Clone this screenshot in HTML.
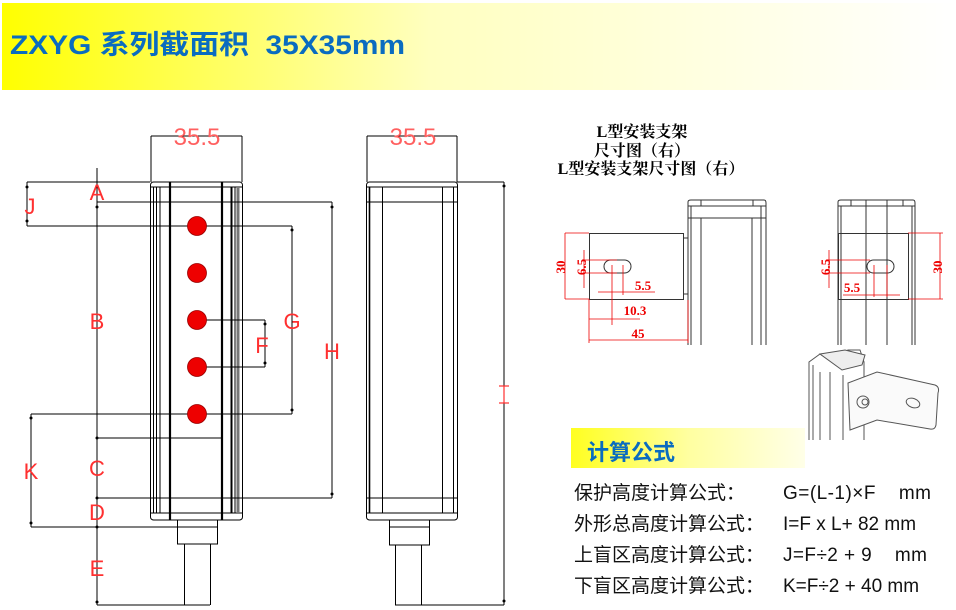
<!DOCTYPE html>
<html><head><meta charset="utf-8"><style>
html,body{margin:0;padding:0;background:#fff;width:956px;height:610px;overflow:hidden}
svg{display:block}
text{white-space:pre}
</style></head><body>
<svg width="956" height="610" viewBox="0 0 956 610" xmlns="http://www.w3.org/2000/svg">
<defs>
<linearGradient id="yg" x1="0" x2="1" y1="0" y2="0">
<stop offset="0" stop-color="#ffff00"/><stop offset="0.45" stop-color="#ffffc0"/><stop offset="1" stop-color="#ffffff"/></linearGradient>
<linearGradient id="yg2" x1="0" x2="1" y1="0" y2="0">
<stop offset="0" stop-color="#ffff20"/><stop offset="0.5" stop-color="#ffffa0"/><stop offset="1" stop-color="#ffffe8"/></linearGradient>
</defs>
<rect x="2" y="3" width="954" height="87" fill="url(#yg)"/>
<text x="10" y="54" font-family="Liberation Sans, Noto Sans CJK SC, sans-serif" font-weight="bold" font-size="27" fill="#0a6cc0" textLength="395" lengthAdjust="spacingAndGlyphs">ZXYG 系列截面积  35X35mm</text>

<g stroke="#000" stroke-width="1" fill="none">
<rect x="150.5" y="182" width="92" height="338" rx="3"/>
<line x1="151" y1="187" x2="242" y2="187"/>
<line x1="151" y1="513" x2="242" y2="513"/>
<line x1="153.5" y1="187" x2="153.5" y2="513"/>
<line x1="156.5" y1="187" x2="156.5" y2="513"/>
<line x1="160" y1="187" x2="160" y2="513"/>
<line x1="170" y1="182" x2="170" y2="520" stroke-width="2.2"/>
<line x1="222" y1="182" x2="222" y2="520" stroke-width="2.2"/>
<line x1="231.5" y1="187" x2="231.5" y2="513" stroke-width="2"/>
<line x1="235" y1="187" x2="235" y2="513"/>
<line x1="238" y1="187" x2="238" y2="513" stroke="#777" stroke-width="3"/>
<rect x="177.5" y="520" width="40" height="24"/>
<line x1="177" y1="527" x2="218" y2="527"/>
<line x1="184.5" y1="544" x2="184.5" y2="605"/>
<line x1="210.5" y1="544" x2="210.5" y2="605"/>
<line x1="151" y1="136" x2="242" y2="136"/>
<line x1="151" y1="136" x2="151" y2="182"/>
<line x1="242" y1="136" x2="242" y2="182"/>
<line x1="97" y1="168" x2="97" y2="605"/>
<line x1="27" y1="182" x2="150" y2="182"/>
<line x1="97" y1="202" x2="332" y2="202"/>
<line x1="27" y1="226" x2="292" y2="226"/>
<line x1="27" y1="182" x2="27" y2="226"/>
<line x1="31" y1="414" x2="292" y2="414"/>
<line x1="31" y1="414" x2="31" y2="527"/>
<line x1="97" y1="438" x2="222" y2="438"/>
<line x1="97" y1="498" x2="332" y2="498"/>
<line x1="31" y1="527" x2="218" y2="527"/>
<line x1="97" y1="605" x2="210" y2="605"/>
<line x1="292" y1="226" x2="292" y2="414"/>
<line x1="197" y1="320" x2="265" y2="320"/>
<line x1="197" y1="367" x2="265" y2="367"/>
<line x1="265" y1="320" x2="265" y2="367"/>
<line x1="332" y1="202" x2="332" y2="498"/>

<rect x="366.5" y="182" width="91" height="338" rx="3"/>
<line x1="367" y1="187" x2="457" y2="187"/>
<line x1="367" y1="513" x2="457" y2="513"/>
<line x1="369.5" y1="187" x2="369.5" y2="513" stroke-width="1.6"/>
<line x1="382.5" y1="187" x2="382.5" y2="513"/>
<line x1="442.5" y1="187" x2="442.5" y2="513"/>
<line x1="453.5" y1="187" x2="453.5" y2="513"/>
<line x1="367" y1="202" x2="457" y2="202"/>
<line x1="367" y1="498" x2="457" y2="498"/>
<rect x="389.5" y="520" width="40" height="25"/>
<line x1="389" y1="527" x2="430" y2="527"/>
<line x1="395.5" y1="545" x2="395.5" y2="605"/>
<line x1="421.5" y1="545" x2="421.5" y2="605"/>
<line x1="395" y1="605" x2="504" y2="605"/>
<line x1="367" y1="136" x2="457" y2="136"/>
<line x1="367" y1="136" x2="367" y2="182"/>
<line x1="457" y1="136" x2="457" y2="182"/>
<line x1="457" y1="182" x2="504" y2="182"/>
<line x1="504" y1="182" x2="504" y2="605"/>
</g>
<g fill="#000">
<circle cx="97" cy="207" r="1.5"/><circle cx="97" cy="438" r="1.5"/><circle cx="97" cy="498" r="1.5"/><circle cx="97" cy="527" r="1.5"/><circle cx="97" cy="602" r="1.5"/>
<circle cx="27" cy="187" r="1.5"/><circle cx="27" cy="221" r="1.5"/><circle cx="31" cy="418" r="1.5"/><circle cx="31" cy="523" r="1.5"/>
<circle cx="292" cy="230" r="1.5"/><circle cx="292" cy="410" r="1.5"/><circle cx="332" cy="207" r="1.5"/><circle cx="332" cy="494" r="1.5"/>
<circle cx="265" cy="324" r="1.5"/><circle cx="265" cy="363" r="1.5"/><circle cx="504" cy="186" r="1.5"/><circle cx="504" cy="601" r="1.5"/>
</g>
<g fill="#ee0000" stroke="#900" stroke-width="0.8">
<circle cx="197" cy="226" r="9.5"/><circle cx="197" cy="273" r="9.5"/><circle cx="197" cy="320" r="9.5"/><circle cx="197" cy="367" r="9.5"/><circle cx="197" cy="414" r="9.5"/>
</g>
<g font-family="Liberation Sans, sans-serif" font-size="22" fill="#ff3030" text-anchor="middle">
<text x="197" y="145" font-size="24" fill="#ff6060">35.5</text>
<text x="413" y="145" font-size="24" fill="#ff6060">35.5</text>
<text x="97" y="200">A</text>
<text x="30" y="214">J</text>
<text x="97" y="329">B</text>
<text x="292" y="329">G</text>
<text x="262" y="353">F</text>
<text x="332" y="359">H</text>
<text x="31" y="479">K</text>
<text x="97" y="476">C</text>
<text x="97" y="520">D</text>
<text x="97" y="576">E</text>
</g>
<g stroke="#ff3030" stroke-width="1.2"><line x1="504" y1="386" x2="504" y2="403"/><line x1="499" y1="386" x2="509" y2="386"/><line x1="499" y1="403" x2="509" y2="403"/></g>

<g font-family="Liberation Serif, Noto Serif CJK SC, serif" font-weight="bold" font-size="16" fill="#000" text-anchor="middle">
<text x="642" y="137">L型安装支架</text>
<text x="642" y="156">尺寸图（右）</text>
<text x="651" y="174">L型安装支架尺寸图（右）</text>
</g>
<g stroke="#333" stroke-width="1" fill="none">
<path d="M688 345 V202 Q688 200 691 200 H764 Q766 200 766 203 V345"/>
<line x1="688" y1="206" x2="766" y2="206"/>
<line x1="701" y1="200" x2="701" y2="206"/><line x1="753" y1="200" x2="753" y2="206"/>
<line x1="691" y1="206" x2="691" y2="345"/>
<line x1="701" y1="218" x2="701" y2="345"/>
<line x1="752" y1="218" x2="752" y2="345"/>
<line x1="688" y1="218" x2="766" y2="218"/>
<line x1="761" y1="206" x2="761" y2="345"/>
<rect x="589.5" y="233.5" width="94" height="66"/>
<line x1="683" y1="238" x2="688" y2="238"/><line x1="683" y1="294" x2="688" y2="294"/>
<rect x="604" y="260" width="27" height="13" rx="6.5"/>
<path d="M838 345 V202 Q838 200 841 200 H913 Q915 200 915 203 V345"/>
<line x1="838" y1="206" x2="915" y2="206"/>
<line x1="851" y1="200" x2="851" y2="206"/><line x1="903" y1="200" x2="903" y2="206"/>
<line x1="866" y1="200" x2="866" y2="345"/><line x1="887" y1="200" x2="887" y2="345"/>
<line x1="841" y1="206" x2="841" y2="345"/><line x1="912" y1="206" x2="912" y2="345"/>
<rect x="838.5" y="233.5" width="70" height="66"/>
<rect x="867" y="260" width="27" height="13" rx="6.5"/>
</g>
<g stroke="#ee0000" stroke-width="0.8" fill="none">
<line x1="565" y1="233" x2="589" y2="233"/><line x1="565" y1="299" x2="589" y2="299"/><line x1="565" y1="233" x2="565" y2="299"/>
<line x1="583" y1="260" x2="617" y2="260"/><line x1="583" y1="273" x2="617" y2="273"/><line x1="584" y1="250" x2="584" y2="288"/>
<line x1="612" y1="265" x2="612" y2="325"/><line x1="623" y1="265" x2="623" y2="295"/>
<line x1="598" y1="292" x2="655" y2="292"/>
<line x1="589" y1="299" x2="589" y2="343"/>
<line x1="589" y1="319" x2="640" y2="319"/>
<line x1="589" y1="340" x2="688" y2="340"/>
<line x1="688" y1="300" x2="688" y2="343"/>
<line x1="908" y1="233" x2="943" y2="233"/><line x1="908" y1="299" x2="943" y2="299"/><line x1="940" y1="233" x2="940" y2="299"/>
<line x1="828" y1="260" x2="870" y2="260"/><line x1="828" y1="273" x2="870" y2="273"/><line x1="829" y1="250" x2="829" y2="288"/>
<line x1="874" y1="265" x2="874" y2="297"/><line x1="887" y1="265" x2="887" y2="297"/>
<line x1="843" y1="295" x2="900" y2="295"/>
</g>
<g font-family="Liberation Serif, serif" font-size="13" fill="#ee0000" font-weight="bold">
<text x="560" y="272" transform="rotate(-90 560 267)" text-anchor="middle">30</text>
<text x="581" y="272" transform="rotate(-90 581 267)" text-anchor="middle">6.5</text>
<text x="643" y="290" text-anchor="middle">5.5</text>
<text x="635" y="315" text-anchor="middle">10.3</text>
<text x="638" y="338" text-anchor="middle">45</text>
<text x="825" y="272" transform="rotate(-90 825 267)" text-anchor="middle">6.5</text>
<text x="937" y="272" transform="rotate(-90 937 267)" text-anchor="middle">30</text>
<text x="852" y="292" text-anchor="middle">5.5</text>
</g>

<g stroke="#555" stroke-width="1" fill="none">
<path d="M809 440 V362 L820 354 H840 L848 350 H860 L864 362 V440"/>
<path d="M820 354 L845 350 L865 355 L862 365 L842 370 Z" fill="#eee"/>
<line x1="813" y1="365" x2="813" y2="440"/><line x1="820" y1="372" x2="820" y2="440"/>
<line x1="830" y1="372" x2="830" y2="440"/><line x1="843" y1="375" x2="843" y2="440"/>
<path d="M848 383 L877 372 L935 385 Q940 387 938 393 L936 425 Q935 430 930 429 L877 420 L850 430 Z" fill="#fafafa"/>
<circle cx="863" cy="402" r="6"/><circle cx="865" cy="402" r="3"/>
<ellipse cx="913" cy="403" rx="7" ry="4.5" transform="rotate(20 913 403)"/>
</g>

<rect x="571" y="428" width="234" height="40" fill="url(#yg2)"/>
<text x="587" y="460" font-family="Liberation Sans, Noto Sans CJK SC, sans-serif" font-weight="bold" font-size="22" fill="#0a6cc0">计算公式</text>
<g font-family="Liberation Sans, Noto Sans CJK SC, sans-serif" font-size="19" fill="#111">
<text x="574" y="499">保护高度计算公式：</text><text x="783" y="499" textLength="148" lengthAdjust="spacing">G=(L-1)×F    mm</text>
<text x="574" y="530">外形总高度计算公式：</text><text x="783" y="530">I=F x L+ 82 mm</text>
<text x="574" y="561">上盲区高度计算公式：</text><text x="783" y="561" textLength="144" lengthAdjust="spacing">J=F÷2 + 9    mm</text>
<text x="574" y="592">下盲区高度计算公式：</text><text x="783" y="592">K=F÷2 + 40 mm</text>
</g>
</svg>
</body></html>
